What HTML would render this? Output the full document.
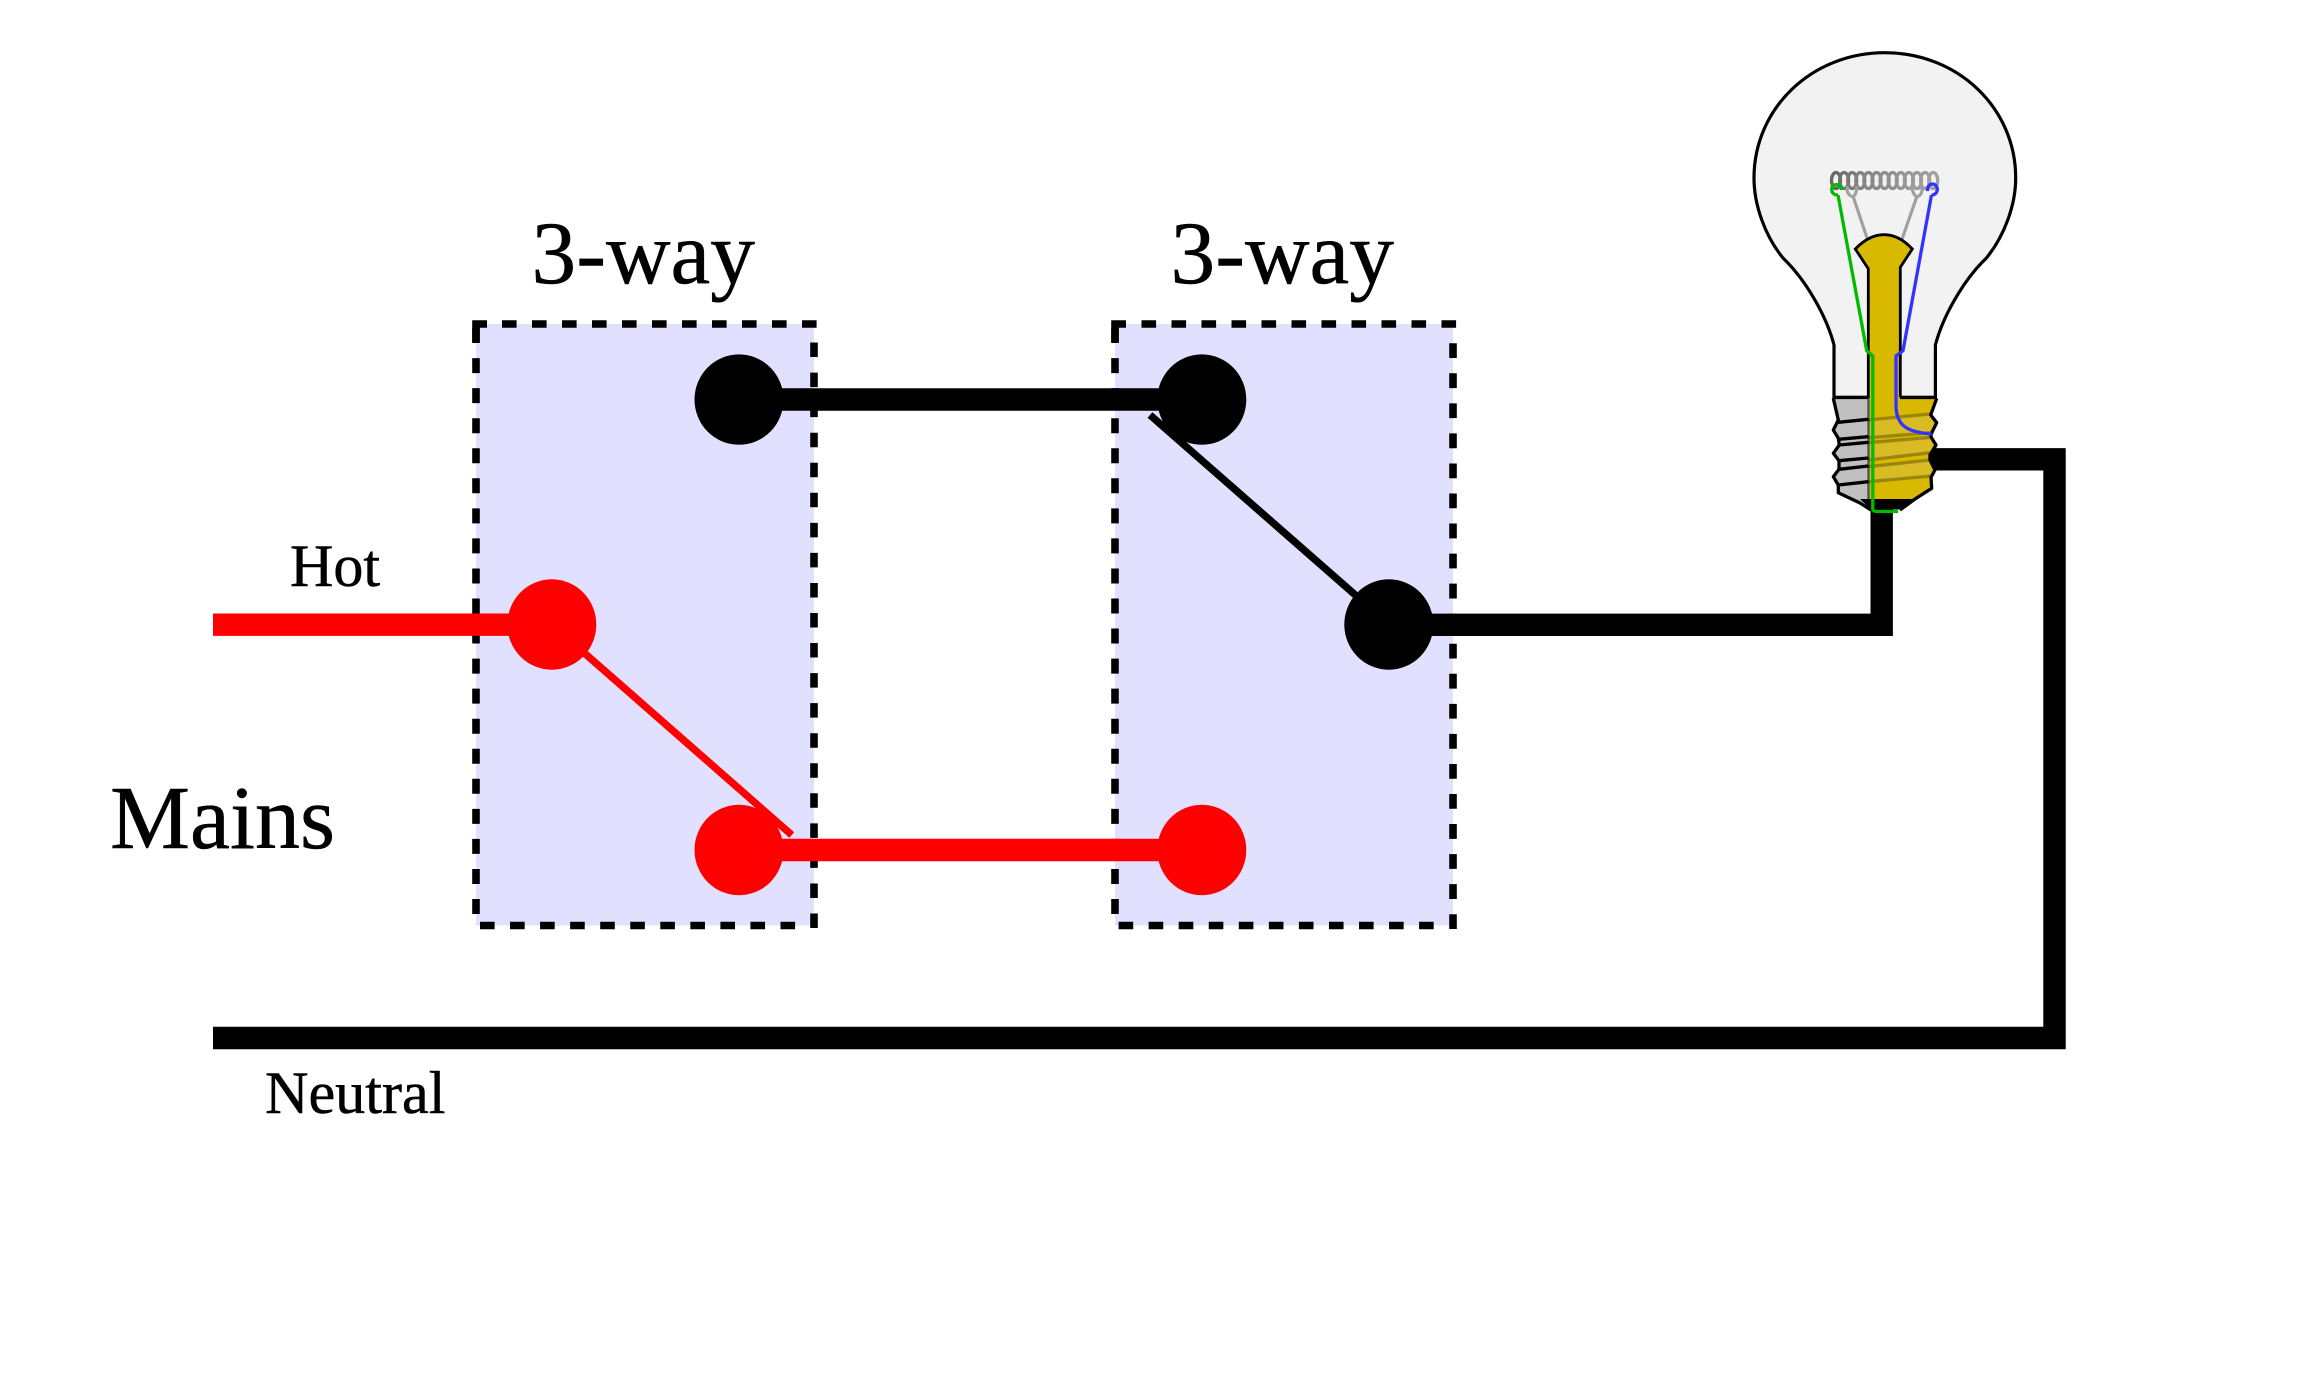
<!DOCTYPE html>
<html>
<head>
<meta charset="utf-8">
<style>
html,body{margin:0;padding:0;background:#fff;width:2316px;height:1374px;overflow:hidden}
svg{display:block}
text{font-family:"Liberation Serif","Times New Roman",serif;fill:#000;stroke:#000;stroke-width:.5}
</style>
</head>
<body>
<svg width="2316" height="1374" viewBox="0 0 2316 1374" xmlns="http://www.w3.org/2000/svg">
<rect width="2316" height="1374" fill="#fff"/>

<!-- switch boxes -->
<g>
<rect x="476" y="324" width="338" height="601.5" fill="#e1e1ff"/>
<g fill="none" stroke="#000" stroke-width="7.6">
<path d="M476 914V320" stroke-dasharray="15 15.05"/>
<path d="M476 342V324H487" />
<path d="M502 324H818" stroke-dasharray="14.6 15.4"/>
<path d="M814 928V342" stroke-dasharray="14.5 15.55"/>
<path d="M480 925.5H800" stroke-dasharray="14.6 15.45"/>
</g>
</g>
<g>
<rect x="1115" y="324" width="338" height="601.5" fill="#e1e1ff"/>
<g fill="none" stroke="#000" stroke-width="7.6">
<path d="M1115 914V320" stroke-dasharray="15 15.05"/>
<path d="M1115 342V324H1126" />
<path d="M1141.5 324H1457" stroke-dasharray="14.6 15.4"/>
<path d="M1453 929V342" stroke-dasharray="14.8 15.25"/>
<path d="M1118.6 925.5H1440" stroke-dasharray="14.6 15.45"/>
</g>
</g>

<!-- wires -->
<g fill="none" stroke-width="22.4">
<path d="M213 624.7H552" stroke="#f00"/>
<path d="M739 850H1202" stroke="#f00"/>
<path d="M739 399.5H1202" stroke="#000"/>
<path d="M1389 624.8H1881.7V505" stroke="#000"/>
<path d="M213 1038H2054.5V459.3H1928" stroke="#000"/>
</g>

<!-- switch arms -->
<path d="M551.8 624.5L791.8 835" stroke="#f00" stroke-width="7.4" fill="none"/>
<path d="M1389 624.5L1150 415" stroke="#000" stroke-width="7.4" fill="none"/>

<!-- terminals -->
<g fill="#000">
<ellipse cx="739" cy="399.6" rx="44.5" ry="45.2"/>
<ellipse cx="1201.8" cy="399.6" rx="44.5" ry="45.2"/>
<ellipse cx="1388.8" cy="624.5" rx="44.5" ry="45.2"/>
</g>
<g fill="#f00">
<ellipse cx="551.8" cy="624.5" rx="44.5" ry="45.2"/>
<ellipse cx="739" cy="850" rx="44.5" ry="45.2"/>
<ellipse cx="1201.8" cy="850" rx="44.5" ry="45.2"/>
</g>

<!-- labels -->
<text x="531.5" y="283" font-size="89.4">3-way</text>
<text x="1170.5" y="283" font-size="89.4">3-way</text>
<text x="290" y="586" font-size="60">Hot</text>
<text x="110" y="848" font-size="90">Mains</text>
<text x="265" y="1113" font-size="60.2">Neutral</text>

<!-- bulb glass -->
<path d="M1834 397.3V345C1826 314 1806 284 1795 271C1791 266 1788 263 1783 258C1765 236 1754 205 1754 178C1754 108 1812 52.7 1884.8 52.7C1958 52.7 2015.7 108 2015.7 178C2015.7 205 2004.4 236 1986.4 258C1981.4 263 1978.4 266 1974.4 271C1963.4 284 1943.4 314 1935.4 345V397.3Z" fill="#f2f2f2" stroke="#000" stroke-width="3.2"/>

<!-- filament -->
<g fill="none" stroke-width="3.3">
<ellipse cx="1836" cy="180.5" rx="4.5" ry="8" stroke="#666"/>
<ellipse cx="1844.1" cy="180.5" rx="4.5" ry="8" stroke="#707070"/>
<ellipse cx="1852.2" cy="180.5" rx="4.5" ry="8" stroke="#787878"/>
<ellipse cx="1860.3" cy="180.5" rx="4.5" ry="8" stroke="#808080"/>
<ellipse cx="1868.4" cy="180.5" rx="4.5" ry="8" stroke="#868686"/>
<ellipse cx="1876.5" cy="180.5" rx="4.5" ry="8" stroke="#8a8a8a"/>
<ellipse cx="1884.6" cy="180.5" rx="4.5" ry="8" stroke="#8e8e8e"/>
<ellipse cx="1892.7" cy="180.5" rx="4.5" ry="8" stroke="#909090"/>
<ellipse cx="1900.8" cy="180.5" rx="4.5" ry="8" stroke="#949494"/>
<ellipse cx="1908.9" cy="180.5" rx="4.5" ry="8" stroke="#989898"/>
<ellipse cx="1917" cy="180.5" rx="4.5" ry="8" stroke="#9a9a9a"/>
<ellipse cx="1925.1" cy="180.5" rx="4.5" ry="8" stroke="#9c9c9c"/>
<ellipse cx="1933.2" cy="180.5" rx="4.5" ry="8" stroke="#a0a0a0"/>
</g>
<!-- supports -->
<g fill="none" stroke="#a0a0a0" stroke-width="3.2">
<path d="M1867.7 240L1853.3 197C1848 195.5 1846 191 1847.5 186"/>
<path d="M1853.3 197C1856 194 1857 190 1856.5 186"/>
<path d="M1901.7 240L1916.7 197C1921.5 195.5 1923 191 1921.5 186"/>
<path d="M1916.7 197C1913 194 1912 190 1912.5 186"/>
</g>

<!-- screw base: gray part -->
<path d="M1833.3 398.3L1838.3 420L1833.3 430L1838.3 438.3L1839.3 445L1833.3 453.3L1839 460.7V469.3L1833.3 476.7L1838.3 485V492.7L1860 503L1868.3 510V398.3Z" fill="#c0c0c0"/>
<path d="M1868.3 397.3H1936.7L1930.7 415L1936.7 422.7L1931 434.3V437L1936 445L1930 455V460L1935 470L1931 477.3L1931.7 488.3L1915 499L1900 509H1868.3Z" fill="#d9b800"/>

<!-- stem -->
<path d="M1868.3 398V268.7L1855.3 249C1864 240 1874 234.7 1884 234.7C1894 234.7 1904 240 1912.3 249L1900.3 267.3V397.3H1935" fill="#d9b800" stroke="none"/>
<path d="M1868.3 398V268.7L1855.3 249C1864 240 1874 234.7 1884 234.7C1894 234.7 1904 240 1912.3 249L1900.3 267.3V397.3" fill="none" stroke="#000" stroke-width="2.8"/>
<path d="M1868.5 398V500" fill="none" stroke="#555" stroke-width="2.4"/>

<!-- lighter gold bands and threads -->
<g fill="#d9bc24">
<path d="M1870 420L1930.7 415L1936.7 422.7L1931 432.7L1870 437.7Z"/>
<path d="M1870 442.7L1931 437.3L1936 445L1930 452.7L1870 460Z"/>
<path d="M1870 466.7L1930 460L1935 470L1931 476L1870 481.7Z"/>
</g>
<g stroke="#000" stroke-width="3.3" fill="none" opacity=".28">
<path d="M1868.3 420L1930.5 414"/>
<path d="M1868.3 437.7L1931 432.7"/>
<path d="M1868.3 442.7L1931 437.3"/>
<path d="M1868.3 460L1930 452.7"/>
<path d="M1868.3 466.7L1930 460"/>
<path d="M1868.3 481.7L1931 476"/>
</g>
<g stroke="#000" stroke-width="3.3" fill="none">
<path d="M1838.3 422.3L1868.3 419.3"/>
<path d="M1838.3 439.3L1868.3 436.7"/>
<path d="M1839.3 445L1868.3 442.3"/>
<path d="M1839 460.7L1868.3 458"/>
<path d="M1839 469.3L1868.3 466"/>
<path d="M1838.3 485L1868.3 481.7"/>
</g>

<!-- base outline and contact -->
<path d="M1860 499L1871 509.5H1900L1915 499Z" fill="#000"/>
<path d="M1833.3 398.3L1838.3 420L1833.3 430L1838.3 438.3L1839.3 445L1833.3 453.3L1839 460.7V469.3L1833.3 476.7L1838.3 485V492.7L1860 503L1871 510" fill="none" stroke="#000" stroke-width="3.3" stroke-linejoin="round"/>
<path d="M1936.7 398.3L1930.7 415L1936.7 422.7L1931 434.3V437L1936 445L1930 455V460L1935 470L1931 477.3L1931.7 488.3L1915 499L1900 510" fill="none" stroke="#000" stroke-width="3.3" stroke-linejoin="round"/>
<path d="M1833.3 397.5H1868M1900 397.5H1936.7" stroke="#000" stroke-width="3.3" fill="none"/>

<!-- conductors -->
<g fill="none" stroke-width="3.3">
<path d="M1838 195L1866.7 350.7L1872.8 356V509C1872.8 511 1875 511.5 1878 511.5H1898" stroke="#00bb00"/>
<path d="M1838 195C1833 195 1831.7 192 1831.7 189.5C1831.7 186.5 1834 184.5 1836.7 184.5C1839.5 184.5 1841.5 186.5 1841.5 190" stroke="#00bb00"/>
<path d="M1931.5 195L1903 350.7L1896 356V405C1896 425 1906 432 1931.7 434" stroke="#3333ff"/>
<path d="M1931.5 195C1935.5 195 1937.3 192 1937.3 189.3C1937.3 186.3 1935 184 1932.3 184C1929.5 184 1927.5 186.3 1927.5 191" stroke="#3333ff"/>
</g>
</svg>
</body>
</html>
